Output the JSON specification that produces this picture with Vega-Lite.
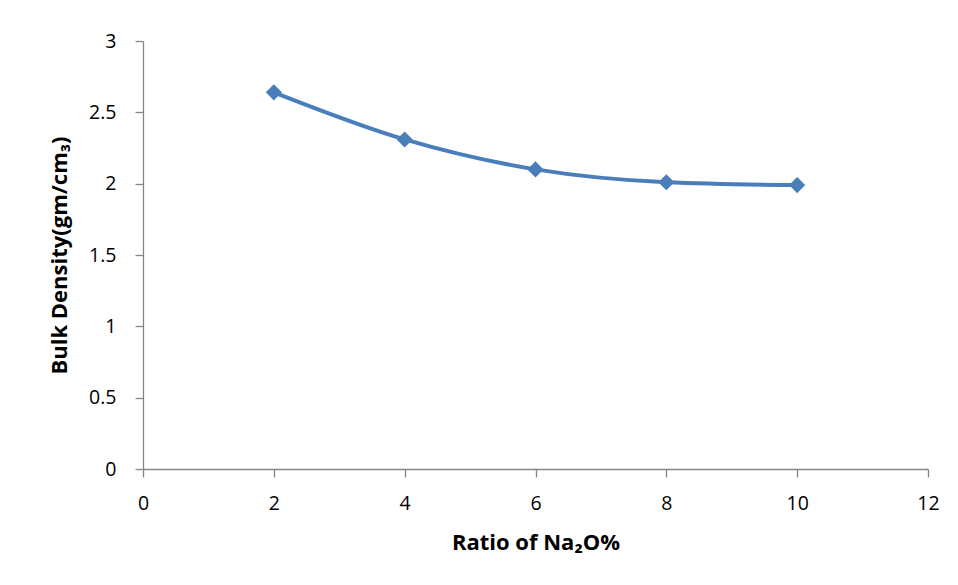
{
  "$schema": "https://vega.github.io/schema/vega-lite/v6.json",
  "width": 785,
  "height": 428,
  "autosize": {"type": "none"},
  "padding": {"left": 143, "top": 41, "right": 30, "bottom": 116},
  "background": "white",
  "data": {"values": [
    {"ratio": 2, "density": 2.64},
    {"ratio": 4, "density": 2.31},
    {"ratio": 6, "density": 2.10},
    {"ratio": 8, "density": 2.01},
    {"ratio": 10, "density": 1.99}
  ]},
  "config": {
    "view": {"stroke": null},
    "font": "Open Sans",
    "axis": {
      "grid": false,
      "domainColor": "#868686",
      "tickColor": "#868686",
      "domainWidth": 1.3,
      "tickWidth": 1.3,
      "tickSize": 8,
      "labelFlush": false,
      "labelFont": "Open Sans",
      "labelFontSize": 19.5,
      "labelColor": "#000000",
      "titleFont": "Open Sans",
      "titleFontSize": 22,
      "titleFontWeight": "bold",
      "titleColor": "#000000"
    }
  },
  "encoding": {
    "x": {
      "field": "ratio", "type": "quantitative",
      "scale": {"domain": [0, 12], "nice": false},
      "axis": {"values": [0, 2, 4, 6, 8, 10, 12], "format": "~g", "title": "Ratio of Na₂O%", "labelPadding": 17, "titlePadding": 20}
    },
    "y": {
      "field": "density", "type": "quantitative",
      "scale": {"domain": [0, 3], "nice": false},
      "axis": {"values": [0, 0.5, 1, 1.5, 2, 2.5, 3], "format": "~g", "title": "Bulk Density(gm/cm₃)", "labelPadding": 19, "titlePadding": 17}
    }
  },
  "layer": [
    {"mark": {"type": "line", "interpolate": "monotone", "color": "#4a7ebb", "strokeWidth": 4}},
    {"mark": {"type": "point", "shape": "diamond", "filled": true, "color": "#4a7ebb", "opacity": 1, "size": 260}}
  ]
}
